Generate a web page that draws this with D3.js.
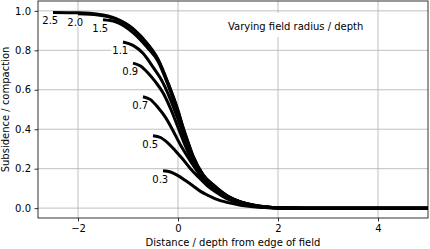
<!DOCTYPE html>
<html>
<head>
<meta charset="utf-8">
<script src="https://cdn.jsdelivr.net/npm/d3@7"></script>
<style>
  body { margin: 0; background: #fff; }
  svg { display: block; font-family: "DejaVu Sans", sans-serif; }
</style>
</head>
<body>
<script>
// field radius / depth for each curve, and the label shown at its start
const radii = [0.3, 0.5, 0.7, 0.9, 1.1, 1.5, 2.0, 2.5];
const radiusLabels = ['0.3', '0.5', '0.7', '0.9', '1.1', '1.5', '2.0', '2.5'];

// [distance / depth from edge, subsidence / compaction]
const curve03 = [[-0.3, 0.189], [-0.15, 0.183], [0, 0.165], [0.15, 0.14], [0.29, 0.115], [0.45, 0.085], [0.6, 0.065], [0.75, 0.047], [1.0, 0.028], [1.25, 0.015], [1.5, 0.007], [2.0, 0.001], [2.5, 0], [5, 0]];
const curve05 = [[-0.5, 0.367], [-0.35, 0.358], [-0.2, 0.33], [-0.05, 0.29], [0.09, 0.25], [0.25, 0.2], [0.42, 0.155], [0.6, 0.11], [0.8, 0.075], [1.0, 0.045], [1.25, 0.024], [1.5, 0.011], [2.0, 0.001], [2.5, 0], [5, 0]];
const curve07 = [[-0.7, 0.565], [-0.55, 0.55], [-0.4, 0.51], [-0.25, 0.46], [-0.115, 0.4], [0.05, 0.32], [0.17, 0.27], [0.35, 0.2], [0.556, 0.13], [0.75, 0.087], [1.0, 0.048], [1.25, 0.026], [1.5, 0.012], [2.0, 0.001], [2.5, 0], [5, 0]];
const curve09 = [[-0.9, 0.735], [-0.75, 0.72], [-0.6, 0.685], [-0.45, 0.64], [-0.3, 0.585], [-0.15, 0.505], [0, 0.41], [0.1, 0.345], [0.2, 0.285], [0.3, 0.23], [0.5, 0.152], [0.72, 0.097], [1.0, 0.053], [1.25, 0.028], [1.5, 0.013], [1.75, 0.005], [2.0, 0.001], [2.5, 0], [5, 0]];
const curve11 = [[-1.1, 0.842], [-0.9, 0.825], [-0.7, 0.785], [-0.5, 0.715], [-0.3, 0.635], [-0.15, 0.55], [0, 0.45], [0.1, 0.38], [0.2, 0.31], [0.3, 0.248], [0.5, 0.16], [0.72, 0.103], [1.0, 0.056], [1.25, 0.03], [1.5, 0.014], [1.75, 0.006], [2.0, 0.002], [2.5, 0], [5, 0]];
const curve15 = [[-1.5, 0.955], [-1.25, 0.945], [-0.9, 0.89], [-0.6, 0.81], [-0.4, 0.745], [-0.2, 0.625], [0, 0.48], [0.1, 0.4], [0.2, 0.325], [0.3, 0.258], [0.5, 0.165], [0.72, 0.11], [1.0, 0.058], [1.25, 0.031], [1.5, 0.015], [1.75, 0.006], [2.0, 0.002], [2.5, 0], [5, 0]];
const curve20 = [[-2.0, 0.985], [-1.6, 0.979], [-1.25, 0.959], [-0.9, 0.907], [-0.6, 0.827], [-0.4, 0.753], [-0.2, 0.633], [0, 0.492], [0.1, 0.408], [0.2, 0.333], [0.3, 0.263], [0.5, 0.169], [0.72, 0.114], [1.0, 0.06], [1.25, 0.032], [1.5, 0.016], [1.75, 0.007], [2.0, 0.002], [2.5, 0], [5, 0]];
const curve25 = [[-2.5, 0.992], [-2.0, 0.99], [-1.6, 0.983], [-1.25, 0.962], [-0.9, 0.91], [-0.6, 0.83], [-0.4, 0.755], [-0.2, 0.635], [0, 0.495], [0.1, 0.41], [0.2, 0.335], [0.3, 0.265], [0.5, 0.17], [0.72, 0.115], [1.0, 0.06], [1.25, 0.032], [1.5, 0.016], [1.75, 0.007], [2.0, 0.002], [2.5, 0], [5, 0]];
const curves = [curve03, curve05, curve07, curve09, curve11, curve15, curve20, curve25];

const xTicks = [-2, 0, 2, 4];
const yTicks = [0.0, 0.2, 0.4, 0.6, 0.8, 1.0];

const width = 430;
const height = 249;
const margin = { top: 1, right: 2, bottom: 31, left: 38 };
const plotW = width - margin.left - margin.right;
const plotH = height - margin.top - margin.bottom;

const x = d3.scaleLinear().domain([-2.8, 5]).range([0, plotW]);
const y = d3.scaleLinear().domain([-0.05, 1.05]).range([plotH, 0]);

const svg = d3.select('body').append('svg')
  .attr('width', width)
  .attr('height', height);

const g = svg.append('g')
  .attr('transform', `translate(${margin.left},${margin.top})`);

g.append('clipPath').attr('id', 'clip')
  .append('rect').attr('width', plotW).attr('height', plotH);

// grid
g.append('g').selectAll('line').data(xTicks).join('line')
  .attr('x1', d => x(d)).attr('x2', d => x(d))
  .attr('y1', 0).attr('y2', plotH)
  .attr('stroke', '#b0b0b0').attr('stroke-width', 0.8);
g.append('g').selectAll('line').data(yTicks).join('line')
  .attr('x1', 0).attr('x2', plotW)
  .attr('y1', d => y(d)).attr('y2', d => y(d))
  .attr('stroke', '#b0b0b0').attr('stroke-width', 0.8);

// note box top right
const note = g.append('g');
note.append('rect')
  .attr('x', x(0.88)).attr('y', 12)
  .attr('width', 147).attr('height', 24)
  .attr('fill', '#fff');
note.append('text')
  .attr('x', x(1.0)).attr('y', 29)
  .attr('font-size', 10)
  .text('Varying field radius / depth');

// curves
const line = d3.line()
  .x(d => x(d[0]))
  .y(d => y(d[1]))
  .curve(d3.curveMonotoneX);

g.append('g').attr('clip-path', 'url(#clip)')
  .selectAll('path').data(curves).join('path')
  .attr('d', line)
  .attr('fill', 'none')
  .attr('stroke', '#000')
  .attr('stroke-width', 3)
  .attr('stroke-linejoin', 'round');

// radius labels under the start of each curve
const labels = g.append('g');
radii.forEach((r, i) => {
  const start = curves[i][0];
  const lx = x(start[0] - 0.055);
  const ly = y(start[1] - 0.043);
  const t = labels.append('text')
    .attr('x', lx).attr('y', ly)
    .attr('text-anchor', 'middle')
    .attr('dominant-baseline', 'central')
    .attr('font-size', 10)
    .text(radiusLabels[i]);
  const b = t.node().getBBox();
  labels.insert('rect', 'text')
    .attr('x', b.x - 1).attr('y', b.y + 1)
    .attr('width', b.width + 2).attr('height', b.height - 2)
    .attr('fill', '#fff');
});

// axes
const xAxis = d3.axisBottom(x).tickValues(xTicks)
  .tickFormat(d => d3.format('d')(d).replace('-', '\u2212'))
  .tickSize(3.5).tickPadding(3.5);
const yAxis = d3.axisLeft(y).tickValues(yTicks)
  .tickFormat(d3.format('.1f'))
  .tickSize(3.5).tickPadding(3.5);

const gx = g.append('g').attr('transform', `translate(0,${plotH})`).call(xAxis);
const gy = g.append('g').call(yAxis);
[gx, gy].forEach(a => {
  a.select('.domain').remove();
  a.selectAll('line').attr('stroke', '#000').attr('stroke-width', 0.8);
  a.selectAll('text').attr('font-size', 10).attr('fill', '#000')
    .attr('font-family', '"DejaVu Sans", sans-serif');
});

// frame
g.append('rect')
  .attr('width', plotW).attr('height', plotH)
  .attr('fill', 'none').attr('stroke', '#000').attr('stroke-width', 0.8);

// axis titles
svg.append('text')
  .attr('x', margin.left + plotW / 2).attr('y', height - 3)
  .attr('text-anchor', 'middle').attr('font-size', 10)
  .text('Distance / depth from edge of field');
svg.append('text')
  .attr('transform', `translate(9,${margin.top + plotH / 2}) rotate(-90)`)
  .attr('text-anchor', 'middle').attr('font-size', 10)
  .text('Subsidence / compaction');
</script>
</body>
</html>
